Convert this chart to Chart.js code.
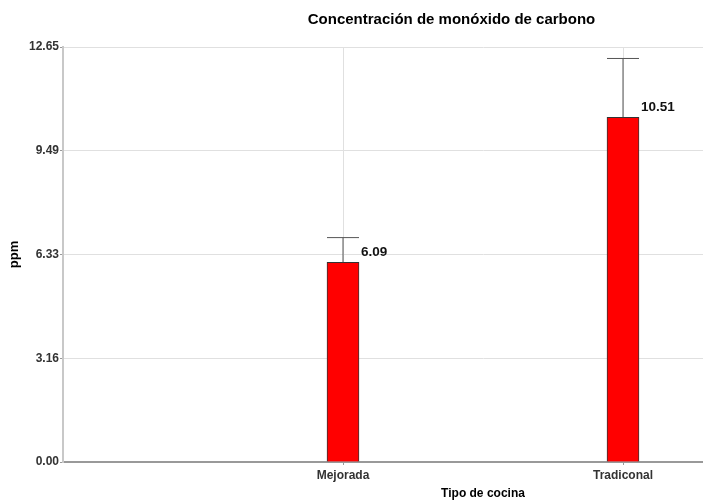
<!DOCTYPE html>
<html>
<head>
<meta charset="utf-8">
<script src="https://cdn.jsdelivr.net/npm/chart.js@4/dist/chart.umd.min.js"></script>
<style>
    html, body { margin: 0; padding: 0; background: #fff; overflow: hidden; width: 703px; height: 501px; }
    #wrap { width: 910px; height: 501px; }
</style>
</head>
<body>
<div id="wrap"><canvas id="coChart" width="910" height="501"></canvas></div>
<script>
// chart data
const categories = ['Mejorada', 'Tradiconal'];
const categoryPos = [1, 2];
const meanValues = [6.09, 10.51];
const upperValues = [6.84, 12.30];
const yTicks = [0, 3.16, 6.33, 9.49, 12.65];

const FONT = '"Liberation Sans", Arial, sans-serif';

// error bars + value labels
const errorBarPlugin = {
    id: 'errorBars',
    afterDatasetsDraw(chart) {
        const ctx = chart.ctx;
        const meta = chart.getDatasetMeta(0);
        const yScale = chart.scales.y;
        ctx.save();
        meta.data.forEach((bar, i) => {
            const half = bar.width / 2;
            const yTop = yScale.getPixelForValue(upperValues[i]);
            ctx.strokeStyle = '#555';
            ctx.lineWidth = 1;
            ctx.beginPath();
            ctx.moveTo(bar.x, bar.y);
            ctx.lineTo(bar.x, yTop);
            ctx.moveTo(bar.x - half, yTop);
            ctx.lineTo(bar.x + half, yTop);
            ctx.stroke();

            ctx.fillStyle = '#111';
            ctx.font = 'bold 13.5px ' + FONT;
            ctx.textAlign = 'left';
            ctx.textBaseline = 'middle';
            ctx.fillText(meanValues[i].toFixed(2), bar.x + half + 2, bar.y - 10);
        });
        ctx.restore();
    }
};

const ctx = document.getElementById('coChart').getContext('2d');
new Chart(ctx, {
    type: 'bar',
    data: {
        datasets: [{
            data: categoryPos.map((x, i) => ({ x: x, y: meanValues[i] })),
            backgroundColor: '#ff0000',
            borderColor: '#333333',
            borderWidth: 1,
            barThickness: 32
        }]
    },
    options: {
        responsive: false,
        animation: false,
        layout: { padding: { left: 0, right: 7, top: 0, bottom: 0 } },
        plugins: {
            legend: { display: false },
            tooltip: { enabled: false },
            title: {
                display: true,
                text: 'Concentración de monóxido de carbono',
                color: '#000',
                font: { family: FONT, size: 15, weight: 'bold' },
                padding: { top: 11, bottom: 18 }
            }
        },
        scales: {
            x: {
                type: 'linear',
                offset: false,
                min: 0,
                max: 3,
                afterBuildTicks: scale => {
                    scale.ticks = categoryPos.map(v => ({ value: v }));
                },
                afterFit: scale => { scale.height = 39; },
                ticks: {
                    color: '#333',
                    font: { family: FONT, size: 12, weight: 'bold' },
                    padding: 3,
                    maxRotation: 0,
                    callback: value => categories[categoryPos.indexOf(value)] || ''
                },
                grid: { offset: false, color: '#e0e0e0', lineWidth: 1, tickLength: 3, tickColor: '#999' },
                border: { color: '#999', width: 2 },
                title: {
                    display: true,
                    text: 'Tipo de cocina',
                    color: '#000',
                    font: { family: FONT, size: 12, weight: 'bold' },
                    padding: { top: 0, bottom: 0 }
                }
            },
            y: {
                min: 0,
                max: 12.65,
                afterBuildTicks: scale => {
                    scale.ticks = yTicks.map(v => ({ value: v }));
                },
                afterFit: scale => { scale.width = 63; },
                ticks: {
                    color: '#333',
                    font: { family: FONT, size: 12, weight: 'bold' },
                    padding: 1,
                    callback: value => value.toFixed(2)
                },
                grid: { color: '#e0e0e0', lineWidth: 1, tickLength: 3, tickColor: '#999' },
                border: { color: '#c8c8c8', width: 2 },
                title: {
                    display: true,
                    text: 'ppm',
                    color: '#000',
                    font: { family: FONT, size: 13, weight: 'bold' },
                    padding: { top: 7, bottom: 0 }
                }
            }
        }
    },
    plugins: [errorBarPlugin]
});
</script>
</body>
</html>
